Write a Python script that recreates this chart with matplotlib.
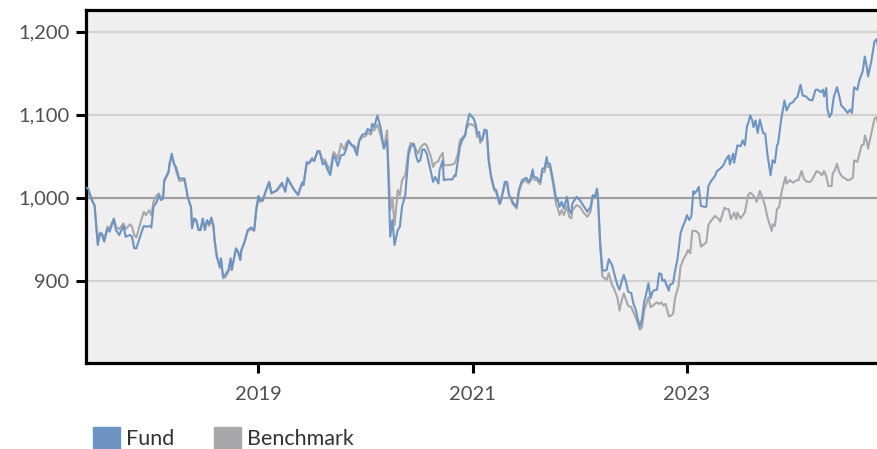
import numpy as np
import matplotlib
matplotlib.use("Agg")
import matplotlib.pyplot as plt
from matplotlib.patches import Rectangle

plt.rcParams['font.family'] = ['Lato', 'DejaVu Sans']

# Dates as decimal years
fund_t = [
    2017.39, 2017.41, 2017.43, 2017.46, 2017.47, 2017.50, 2017.52, 2017.54, 2017.56, 2017.59,
    2017.61, 2017.65, 2017.67, 2017.70, 2017.74, 2017.76, 2017.80, 2017.82, 2017.84, 2017.86,
    2017.91, 2017.93, 2017.95, 2017.98, 2018.00, 2018.02, 2018.05, 2018.07, 2018.09, 2018.11,
    2018.12, 2018.16, 2018.17, 2018.19, 2018.21, 2018.23, 2018.26, 2018.31, 2018.34, 2018.37,
    2018.38, 2018.40, 2018.42, 2018.44, 2018.46, 2018.48, 2018.50, 2018.52, 2018.54, 2018.56,
    2018.58, 2018.59, 2018.61, 2018.64, 2018.65, 2018.67, 2018.69, 2018.72, 2018.74, 2018.75,
    2018.79, 2018.81, 2018.83, 2018.84, 2018.87, 2018.90, 2018.93, 2018.96, 2018.98, 2019.00,
    2019.01, 2019.04, 2019.07, 2019.10, 2019.12, 2019.17, 2019.22, 2019.25, 2019.27, 2019.30,
    2019.33, 2019.37, 2019.39, 2019.41, 2019.42, 2019.45, 2019.47, 2019.50, 2019.52, 2019.55,
    2019.57, 2019.60, 2019.62, 2019.64, 2019.67, 2019.70, 2019.72, 2019.74, 2019.77, 2019.80,
    2019.82, 2019.84, 2019.87, 2019.89, 2019.92, 2019.94, 2019.97, 2020.00, 2020.02, 2020.05,
    2020.06, 2020.08, 2020.11, 2020.14, 2020.17, 2020.20, 2020.21, 2020.23, 2020.25, 2020.27,
    2020.30, 2020.32, 2020.34, 2020.37, 2020.40, 2020.42, 2020.45, 2020.47, 2020.49, 2020.51,
    2020.53, 2020.55, 2020.57, 2020.61, 2020.63, 2020.65, 2020.68, 2020.69, 2020.72, 2020.73,
    2020.76, 2020.81, 2020.83, 2020.84, 2020.86, 2020.88, 2020.90, 2020.93, 2020.94, 2020.97,
    2021.01, 2021.03, 2021.04, 2021.06, 2021.07, 2021.09, 2021.11, 2021.13, 2021.15, 2021.17,
    2021.20, 2021.22, 2021.25, 2021.26, 2021.28, 2021.30, 2021.32, 2021.34, 2021.36, 2021.37,
    2021.41, 2021.43, 2021.46, 2021.50, 2021.52, 2021.54, 2021.56, 2021.57, 2021.60, 2021.63,
    2021.65, 2021.67, 2021.69, 2021.70, 2021.72, 2021.75, 2021.78, 2021.79, 2021.81, 2021.83,
    2021.85, 2021.88, 2021.90, 2021.92, 2021.93, 2021.97, 2022.00, 2022.04, 2022.07, 2022.10,
    2022.12, 2022.14, 2022.16, 2022.17, 2022.19, 2022.21, 2022.23, 2022.25, 2022.27, 2022.30,
    2022.32, 2022.35, 2022.37, 2022.39, 2022.41, 2022.43, 2022.45, 2022.48, 2022.50, 2022.52,
    2022.54, 2022.56, 2022.58, 2022.60, 2022.62, 2022.64, 2022.66, 2022.68, 2022.70, 2022.72,
    2022.74, 2022.76, 2022.77, 2022.79, 2022.83, 2022.84, 2022.87, 2022.89, 2022.91, 2022.94,
    2022.96, 2022.98, 2023.00, 2023.02, 2023.04, 2023.06, 2023.07, 2023.09, 2023.11, 2023.13,
    2023.16, 2023.18, 2023.20, 2023.22, 2023.26, 2023.28, 2023.31, 2023.34, 2023.36, 2023.39,
    2023.40, 2023.43, 2023.44, 2023.47, 2023.50, 2023.52, 2023.54, 2023.56, 2023.57, 2023.59,
    2023.61, 2023.62, 2023.64, 2023.66, 2023.68, 2023.71, 2023.73, 2023.75, 2023.78, 2023.80,
    2023.82, 2023.84, 2023.85, 2023.88, 2023.89, 2023.91, 2023.93, 2023.96, 2023.99, 2024.01,
    2024.03, 2024.06, 2024.08, 2024.11, 2024.14, 2024.17, 2024.20, 2024.22, 2024.25, 2024.27,
    2024.28, 2024.30, 2024.31, 2024.33, 2024.35, 2024.37, 2024.40, 2024.42, 2024.44, 2024.47,
    2024.50, 2024.52, 2024.54, 2024.56, 2024.59, 2024.61, 2024.64, 2024.66, 2024.68, 2024.69,
    2024.72, 2024.75, 2024.77, 2024.78,
]
fund_v = [
    1012, 1011, 1003, 993, 991, 943, 957, 955, 947, 963,
    959, 974, 961, 955, 966, 953, 955, 953, 939, 939,
    959, 966, 965, 966, 964, 989, 995, 1003, 997, 999,
    1021, 1031, 1041, 1053, 1041, 1037, 1023, 1023, 1001, 989,
    963, 975, 973, 961, 961, 975, 961, 973, 968, 976,
    966, 949, 929, 917, 927, 905, 907, 913, 927, 913,
    939, 935, 925, 937, 947, 961, 964, 961, 987, 1002,
    997, 997, 1009, 1019, 1005, 1009, 1018, 1007, 1024, 1017,
    1010, 1003, 1011, 1018, 1015, 1043, 1041, 1046, 1044, 1056,
    1056, 1040, 1043, 1035, 1027, 1051, 1047, 1038, 1051, 1052,
    1059, 1069, 1063, 1061, 1051, 1069, 1076, 1077, 1083, 1079,
    1089, 1085, 1099, 1085, 1059, 1069, 1037, 953, 973, 943,
    961, 965, 989, 1003, 1051, 1061, 1065, 1051, 1043, 1045,
    1058, 1058, 1053, 1031, 1019, 1025, 1017, 1033, 1045, 1021,
    1022, 1022, 1027, 1026, 1043, 1061, 1069, 1075, 1085, 1101,
    1095, 1087, 1077, 1079, 1069, 1071, 1082, 1081, 1045, 1027,
    1011, 1009, 993, 995, 1007, 1019, 1019, 1003, 999, 995,
    989, 1009, 1021, 1024, 1019, 1023, 1034, 1025, 1024, 1019,
    1035, 1035, 1049, 1041, 1041, 1021, 997, 999, 989, 995,
    987, 1001, 985, 981, 993, 1001, 997, 989, 983, 989,
    1003, 1001, 1011, 997, 945, 913, 912, 913, 926, 919,
    909, 895, 889, 899, 907, 899, 887, 885, 872, 866,
    854, 845, 854, 874, 885, 897, 879, 887, 889, 889,
    909, 908, 900, 901, 888, 895, 897, 913, 925, 957,
    965, 971, 979, 973, 977, 1008, 1005, 1008, 1013, 990,
    989, 989, 1014, 1019, 1026, 1032, 1035, 1039, 1045, 1051,
    1040, 1053, 1042, 1063, 1062, 1069, 1063, 1086, 1089, 1099,
    1093, 1085, 1093, 1078, 1094, 1078, 1077, 1053, 1027, 1045,
    1042, 1063, 1065, 1095, 1102, 1117, 1105, 1113, 1115, 1119,
    1121, 1136, 1123, 1122, 1118, 1117, 1130, 1130, 1127, 1130,
    1122, 1132, 1107, 1097, 1102, 1121, 1133, 1123, 1111, 1107,
    1102, 1106, 1102, 1133, 1130, 1142, 1152, 1170, 1156, 1146,
    1164, 1188, 1191, 1184,
]

bench_t = [
    2017.39, 2017.41, 2017.43, 2017.46, 2017.47, 2017.50, 2017.52, 2017.54, 2017.56, 2017.59,
    2017.61, 2017.65, 2017.67, 2017.70, 2017.74, 2017.76, 2017.80, 2017.82, 2017.84, 2017.86,
    2017.91, 2017.93, 2017.95, 2017.98, 2018.00, 2018.02, 2018.05, 2018.07, 2018.09, 2018.11,
    2018.12, 2018.16, 2018.17, 2018.19, 2018.21, 2018.23, 2018.26, 2018.31, 2018.34, 2018.37,
    2018.38, 2018.40, 2018.42, 2018.44, 2018.46, 2018.48, 2018.50, 2018.52, 2018.54, 2018.56,
    2018.58, 2018.59, 2018.61, 2018.64, 2018.65, 2018.67, 2018.69, 2018.72, 2018.74, 2018.75,
    2018.79, 2018.81, 2018.83, 2018.84, 2018.87, 2018.90, 2018.93, 2018.96, 2018.98, 2019.00,
    2019.01, 2019.04, 2019.07, 2019.10, 2019.12, 2019.17, 2019.22, 2019.25, 2019.27, 2019.30,
    2019.33, 2019.37, 2019.39, 2019.41, 2019.42, 2019.45, 2019.47, 2019.50, 2019.52, 2019.55,
    2019.57, 2019.60, 2019.62, 2019.64, 2019.67, 2019.70, 2019.72, 2019.74, 2019.77, 2019.80,
    2019.82, 2019.84, 2019.87, 2019.89, 2019.92, 2019.94, 2019.97, 2020.00, 2020.02, 2020.05,
    2020.06, 2020.08, 2020.11, 2020.14, 2020.17, 2020.20, 2020.21, 2020.23, 2020.25, 2020.27,
    2020.30, 2020.32, 2020.34, 2020.37, 2020.40, 2020.42, 2020.45, 2020.47, 2020.49, 2020.51,
    2020.53, 2020.55, 2020.57, 2020.61, 2020.63, 2020.65, 2020.68, 2020.69, 2020.72, 2020.73,
    2020.76, 2020.81, 2020.83, 2020.84, 2020.86, 2020.88, 2020.90, 2020.93, 2020.94, 2020.97,
    2021.01, 2021.03, 2021.04, 2021.06, 2021.07, 2021.09, 2021.11, 2021.13, 2021.15, 2021.17,
    2021.20, 2021.22, 2021.25, 2021.26, 2021.28, 2021.30, 2021.32, 2021.34, 2021.36, 2021.37,
    2021.41, 2021.43, 2021.46, 2021.50, 2021.52, 2021.54, 2021.56, 2021.57, 2021.60, 2021.63,
    2021.65, 2021.67, 2021.69, 2021.70, 2021.72, 2021.75, 2021.78, 2021.79, 2021.81, 2021.83,
    2021.85, 2021.88, 2021.90, 2021.92, 2021.93, 2021.97, 2022.00, 2022.04, 2022.07, 2022.10,
    2022.12, 2022.14, 2022.16, 2022.17, 2022.19, 2022.21, 2022.23, 2022.25, 2022.27, 2022.30,
    2022.32, 2022.35, 2022.37, 2022.39, 2022.41, 2022.43, 2022.45, 2022.48, 2022.50, 2022.52,
    2022.54, 2022.56, 2022.58, 2022.60, 2022.62, 2022.64, 2022.66, 2022.68, 2022.70, 2022.72,
    2022.74, 2022.76, 2022.78, 2022.80, 2022.83, 2022.85, 2022.87, 2022.89, 2022.92, 2022.94,
    2022.97, 2022.99, 2023.01, 2023.03, 2023.05, 2023.08, 2023.11, 2023.13, 2023.16, 2023.18,
    2023.20, 2023.23, 2023.26, 2023.30, 2023.31, 2023.35, 2023.37, 2023.39, 2023.41, 2023.44,
    2023.46, 2023.47, 2023.50, 2023.54, 2023.57, 2023.59, 2023.61, 2023.64, 2023.65, 2023.68,
    2023.71, 2023.73, 2023.75, 2023.79, 2023.80, 2023.82, 2023.84, 2023.86, 2023.88, 2023.90,
    2023.92, 2023.93, 2023.96, 2023.99, 2024.02, 2024.04, 2024.07, 2024.09, 2024.12, 2024.15,
    2024.17, 2024.21, 2024.24, 2024.26, 2024.28, 2024.30, 2024.32, 2024.35, 2024.36, 2024.38,
    2024.40, 2024.42, 2024.45, 2024.48, 2024.50, 2024.53, 2024.55, 2024.56, 2024.59, 2024.61,
    2024.63, 2024.65, 2024.66, 2024.68, 2024.69, 2024.72, 2024.75, 2024.77, 2024.78,
]
bench_v = [
    1008, 1006, 1000, 993, 990, 946, 958, 957, 950, 965,
    963, 975, 965, 962, 969, 962, 968, 965, 955, 952,
    975, 983, 979, 985, 979, 995, 1003, 1005, 1000, 1001,
    1019, 1030, 1040, 1050, 1042, 1033, 1020, 1021, 1000, 988,
    965, 974, 972, 962, 963, 973, 963, 971, 966, 973,
    965, 950, 931, 915, 925, 903, 904, 911, 925, 913,
    938, 934, 925, 936, 946, 960, 962, 960, 985, 1000,
    995, 996, 1008, 1018, 1006, 1008, 1016, 1008, 1022, 1016,
    1010, 1004, 1012, 1019, 1016, 1040, 1042, 1048, 1045, 1054,
    1056, 1045, 1046, 1040, 1033, 1055, 1052, 1047, 1065, 1058,
    1066, 1068, 1063, 1063, 1058, 1068, 1073, 1074, 1078, 1076,
    1083, 1081, 1088, 1075, 1060, 1081, 1050, 985, 1000, 967,
    1009, 1003, 1021, 1027, 1057, 1066, 1064, 1058, 1053, 1060,
    1063, 1065, 1063, 1049, 1037, 1042, 1044, 1048, 1054, 1039,
    1039, 1040, 1041, 1044, 1052, 1069, 1072, 1076, 1083, 1089,
    1087, 1083, 1073, 1075, 1066, 1069, 1079, 1079, 1043, 1025,
    1009, 1006, 992, 994, 1005, 1016, 1016, 1002, 998, 993,
    987, 1006, 1018, 1021, 1017, 1020, 1030, 1022, 1021, 1016,
    1031, 1031, 1044, 1037, 1037, 1017, 991, 989, 979, 985,
    979, 990, 977, 975, 985, 991, 989, 981, 977, 983,
    1001, 1001, 1008, 996, 941, 905, 903, 901, 909, 895,
    890, 880, 864, 876, 885, 877, 870, 868, 862, 856,
    849, 841, 844, 864, 872, 880, 868, 870, 872, 874,
    872, 874, 870, 872, 857, 858, 860, 880, 893, 917,
    927, 931, 937, 933, 960, 960, 957, 941, 944, 946,
    967, 973, 978, 974, 971, 988, 986, 986, 974, 982,
    974, 982, 975, 982, 1003, 1006, 1004, 999, 995, 1008,
    998, 989, 977, 960, 968, 966, 986, 989, 1005, 1016,
    1025, 1017, 1021, 1018, 1021, 1021, 1032, 1023, 1019, 1019,
    1022, 1032, 1030, 1027, 1032, 1026, 1014, 1014, 1029, 1033,
    1041, 1031, 1025, 1023, 1021, 1022, 1025, 1045, 1043, 1053,
    1063, 1064, 1075, 1067, 1059, 1077, 1095, 1097, 1091,
]

year_ticks = [2019, 2021, 2023]
value_ticks = [900, 1000, 1100, 1200]
series_names = ['Fund', 'Benchmark']
series_colors = ['#6e94c3', '#a8a8aa']

fig = plt.figure(figsize=(8.77, 4.49), dpi=100)
ax = fig.add_axes([86 / 877, 1 - 362.5 / 449, 1 - 86 / 877 + 0.002, 352.5 / 449])
ax.set_facecolor('#efefef')

for v in value_ticks:
    if v == 1000:
        ax.axhline(v, color='#9e9e9e', lw=1.6, zorder=1)
    else:
        ax.axhline(v, color='#d2d2d2', lw=1.6, zorder=1)

ax.plot(bench_t, bench_v, color=series_colors[1], lw=1.5, zorder=2)
ax.plot(fund_t, fund_v, color=series_colors[0], lw=1.5, zorder=3)

ax.set_xlim(2017.39, 2024.79)
ax.set_ylim(801.5, 1226)

ax.set_xticks(year_ticks)
ax.set_xticklabels([str(y) for y in year_ticks])
ax.set_yticks(value_ticks)
ax.set_yticklabels([f'{v:,}' for v in value_ticks])

for side in ['left', 'top', 'bottom']:
    ax.spines[side].set_color('black')
    ax.spines[side].set_linewidth(2.3)
ax.spines['right'].set_visible(False)

ax.tick_params(axis='both', colors='black', width=2.2, length=7, direction='out',
               labelcolor='#505050', labelsize=14.5)
ax.tick_params(axis='x', pad=10)
ax.tick_params(axis='y', pad=5)

# legend drawn by hand at the bottom left
leg_x = [93 / 877, 214 / 877]
for i, name in enumerate(series_names):
    fig.patches.append(Rectangle((leg_x[i], 0), 27 / 877, 22.5 / 449,
                                 transform=fig.transFigure, color=series_colors[i]))
    fig.text(leg_x[i] + 33 / 877, 10 / 449, name, fontsize=15.5, color='#333333',
             va='center', ha='left')

fig.savefig('out.png', dpi=100)
